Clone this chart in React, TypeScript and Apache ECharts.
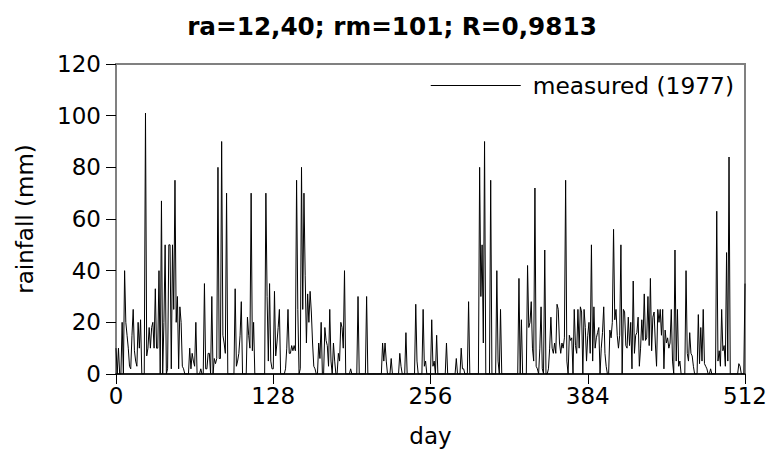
import React, { useEffect, useRef } from "react";
import * as echarts from "echarts";

const TITLE = "ra=12,40; rm=101; R=0,9813";
const SERIES_NAME = "measured (1977)";
const X_NAME = "day";
const Y_NAME = "rainfall (mm)";
const X_TICKS = [0, 128, 256, 384, 512];
const Y_TICKS = [0, 20, 40, 60, 80, 100, 120];

// daily rainfall (mm), day 0 .. 512
const rainfall: number[] = [
  10, 0, 10, 0, 0, 20, 0, 40, 20, 15,
  10, 3, 2, 15, 25, 9, 5, 3, 20, 10,
  21, 0, 0, 0, 101, 7, 10, 18, 10, 18,
  20, 10, 33, 10, 10, 40, 0, 67, 0, 20,
  50, 0, 2, 50, 50, 2, 50, 25, 75, 20,
  30, 2, 26, 20, 3, 2, 0, 0, 0, 0,
  10, 2, 8, 5, 3, 20, 0, 0, 0, 2,
  0, 0, 35, 2, 2, 8, 8, 0, 30, 0,
  6, 4, 6, 80, 6, 6, 90, 15, 12, 8,
  70, 0, 0, 0, 0, 0, 0, 33, 3, 5,
  8, 15, 28, 0, 0, 0, 0, 22, 15, 10,
  70, 9, 20, 0, 0, 0, 0, 0, 0, 0,
  0, 0, 70, 30, 5, 35, 5, 2, 2, 32,
  7, 12, 18, 25, 0, 0, 0, 0, 2, 10,
  25, 8, 8, 11, 9, 11, 9, 75, 25, 0,
  2, 80, 25, 70, 38, 12, 31, 20, 32, 24,
  12, 3, 2, 0, 0, 12, 6, 20, 0, 0,
  18, 13, 11, 3, 25, 5, 0, 12, 5, 0,
  0, 8, 5, 20, 18, 10, 40, 0, 0, 0,
  0, 2, 0, 0, 0, 0, 0, 30, 0, 0,
  0, 0, 0, 0, 30, 0, 0, 0, 0, 0,
  0, 0, 0, 0, 0, 0, 0, 12, 5, 12,
  5, 0, 0, 0, 6, 0, 0, 0, 0, 0,
  0, 8, 3, 0, 0, 0, 16, 0, 0, 0,
  0, 0, 0, 0, 27, 5, 0, 0, 0, 0,
  25, 3, 5, 0, 0, 0, 0, 21, 3, 5,
  0, 15, 0, 0, 0, 0, 0, 0, 0, 12,
  0, 0, 0, 0, 0, 0, 0, 6, 0, 0,
  0, 10, 2, 2, 0, 0, 0, 28, 0, 0,
  0, 0, 0, 0, 0, 0, 80, 30, 50, 12,
  90, 0, 0, 0, 0, 75, 0, 0, 0, 0,
  40, 5, 0, 25, 0, 0, 0, 0, 0, 0,
  0, 0, 0, 0, 0, 0, 0, 0, 37, 0,
  21, 0, 0, 0, 0, 42, 18, 20, 28, 10,
  5, 72, 3, 2, 0, 10, 26, 2, 0, 48,
  0, 0, 2, 10, 22, 10, 8, 12, 8, 27,
  25, 12, 8, 12, 10, 14, 75, 5, 0, 15,
  13, 14, 0, 25, 11, 8, 25, 10, 26, 24,
  0, 25, 18, 5, 15, 20, 8, 50, 5, 26,
  10, 14, 16, 18, 0, 10, 16, 26, 8, 3,
  0, 0, 17, 14, 20, 56, 21, 25, 15, 10,
  15, 50, 0, 25, 24, 11, 10, 22, 11, 20,
  2, 36, 8, 15, 16, 22, 3, 10, 21, 13,
  31, 13, 14, 30, 11, 37, 9, 22, 24, 12,
  3, 25, 20, 25, 15, 25, 2, 17, 12, 14,
  10, 12, 25, 5, 0, 48, 5, 25, 3, 5,
  0, 0, 0, 0, 40, 8, 5, 16, 8, 7,
  3, 0, 0, 0, 23, 4, 18, 5, 25, 4,
  3, 2, 0, 0, 2, 0, 0, 0, 0, 63,
  5, 9, 3, 25, 9, 11, 3, 47, 5, 84,
  0, 0, 0, 0, 0, 0, 0, 4, 3, 0,
  0, 0, 35,
];

const FONT = "DejaVu Sans";

export default function App() {
  const ref = useRef<HTMLDivElement>(null);
  useEffect(() => {
    if (!ref.current) return;
    const chart = echarts.init(ref.current, null, { renderer: "svg" });
    const data = rainfall.map((v, i) => [i, v]);
    chart.setOption({
      animation: false,
      backgroundColor: "#ffffff",
      title: {
        text: TITLE,
        left: "center",
        top: 9,
        textStyle: { fontFamily: FONT, fontSize: 24.7, fontWeight: "bold", color: "#000" },
      },
      legend: {
        data: [SERIES_NAME],
        right: 45,
        top: 69,
        icon: "rect",
        itemWidth: 90,
        itemHeight: 1,
        textStyle: { fontFamily: FONT, fontSize: 23.3, color: "#000", padding: [0, 0, 0, 7] },
      },
      grid: {
        left: 116,
        right: 39,
        top: 64,
        bottom: 85,
        show: true,
        borderColor: "#808080",
        borderWidth: 2,
        backgroundColor: "transparent",
      },
      xAxis: {
        type: "value",
        min: X_TICKS[0],
        max: X_TICKS[X_TICKS.length - 1],
        interval: X_TICKS[1] - X_TICKS[0],
        name: X_NAME,
        nameLocation: "middle",
        nameGap: 50,
        nameTextStyle: { fontFamily: FONT, fontSize: 23, color: "#000" },
        axisLine: { show: true, onZero: false, lineStyle: { color: "#000", width: 1.5 } },
        axisTick: { show: true, length: 10, lineStyle: { color: "#000", width: 1 } },
        axisLabel: { fontFamily: FONT, fontSize: 23, color: "#000", margin: 10 },
        splitLine: { show: false },
      },
      yAxis: {
        type: "value",
        min: Y_TICKS[0],
        max: Y_TICKS[Y_TICKS.length - 1],
        interval: Y_TICKS[1] - Y_TICKS[0],
        name: Y_NAME,
        nameLocation: "middle",
        nameGap: 80,
        nameRotate: 90,
        nameTextStyle: { fontFamily: FONT, fontSize: 23, color: "#000" },
        axisLine: { show: true, lineStyle: { color: "#808080", width: 2 } },
        axisTick: { show: true, length: 10, lineStyle: { color: "#000", width: 1 } },
        axisLabel: { fontFamily: FONT, fontSize: 23, color: "#000", margin: 15 },
        splitLine: { show: false },
      },
      series: [
        {
          name: SERIES_NAME,
          type: "line",
          data,
          showSymbol: false,
          symbol: "none",
          lineStyle: { color: "#000", width: 1 },
          itemStyle: { color: "#000" },
        },
      ],
    });
    return () => chart.dispose();
  }, []);
  return <div ref={ref} style={{ width: 784, height: 459, position: "absolute", left: 0, top: 0 }} />;
}
